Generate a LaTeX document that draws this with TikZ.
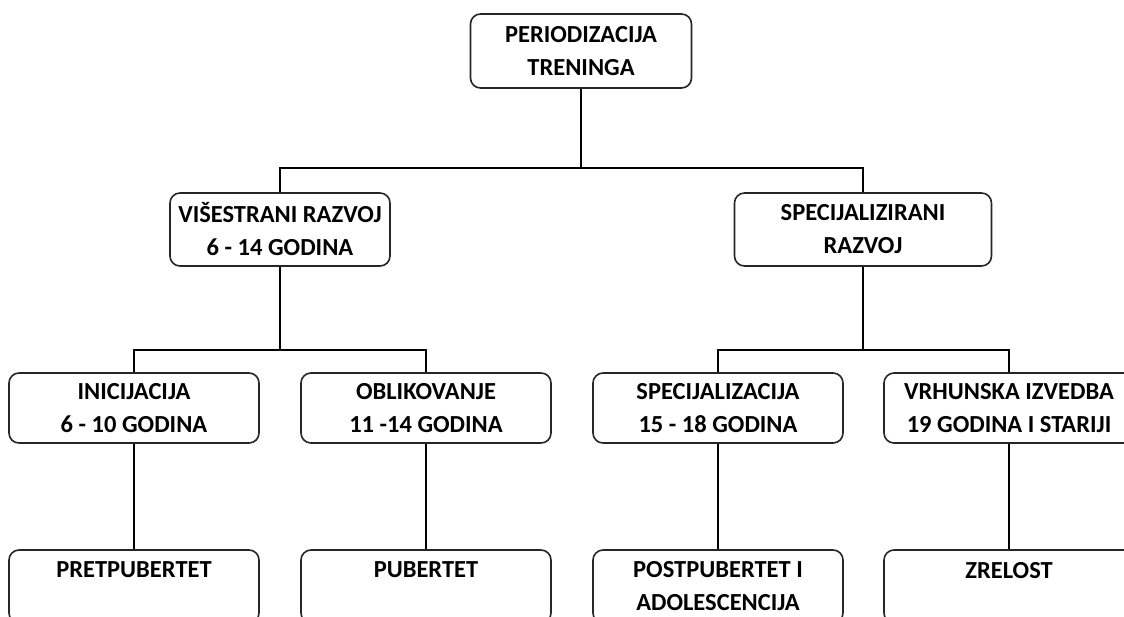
\documentclass[tikz,border=0pt]{standalone}
\usepackage{fontspec}
\setmainfont{Carlito}
\begin{document}
\begin{tikzpicture}[x=1pt,y=-1pt,
  box/.style={draw=black!85, line width=1.6pt, rounded corners=10pt, align=center,
    font=\fontsize{24.5}{33}\selectfont\bfseries, inner sep=0pt},
  lvA/.style={box, minimum width=221pt, minimum height=74pt},
  lvB/.style={box, minimum height=73pt},
  lvC/.style={box, minimum width=250pt, minimum height=70pt},
  lvD/.style={box, minimum width=250pt, minimum height=73pt},
  conn/.style={draw=black, line width=2pt}]
\useasboundingbox (0,0) rectangle (1124,616);
\node[lvA] (top) at (581,51) {PERIODIZACIJA\\TRENINGA};
\node[lvB, minimum width=220pt] (vis) at (280,229.5) {VIŠESTRANI RAZVOJ\\6 - 14 GODINA};
\node[lvB, minimum width=257pt] (spc) at (863,229.5) {SPECIJALIZIRANI\\RAZVOJ};
\node[lvC] (ini) at (134,408) {INICIJACIJA\\6 - 10 GODINA};
\node[lvC] (obl) at (426,408) {OBLIKOVANJE\\11 -14 GODINA};
\node[lvC] (sze) at (718,408) {SPECIJALIZACIJA\\15 - 18 GODINA};
\node[lvC] (vrh) at (1009,408) {VRHUNSKA IZVEDBA\\19 GODINA I STARIJI};
\node[lvD] (pre) at (134,586.5) {PRETPUBERTET\\\mbox{}};
\node[lvD] (pub) at (426,586.5) {PUBERTET\\\mbox{}};
\node[lvD] (pos) at (718,586.5) {POSTPUBERTET I\\ADOLESCENCIJA};
\node[lvD] (zre) at (1009,586.5) {ZRELOST\\\mbox{}};
\coordinate (j1) at (581,168);
\coordinate (j2) at (280,350);
\coordinate (j3) at (863,350);
\draw[conn] (top.south) -- (j1);
\draw[conn] (j1) -| (vis.north);
\draw[conn] (j1) -| (spc.north);
\draw[conn] (vis.south) -- (j2);
\draw[conn] (j2) -| (ini.north);
\draw[conn] (j2) -| (obl.north);
\draw[conn] (spc.south) -- (j3);
\draw[conn] (j3) -| (sze.north);
\draw[conn] (j3) -| (vrh.north);
\draw[conn] (ini.south) -- (pre.north);
\draw[conn] (obl.south) -- (pub.north);
\draw[conn] (sze.south) -- (pos.north);
\draw[conn] (vrh.south) -- (zre.north);
\end{tikzpicture}
\end{document}
